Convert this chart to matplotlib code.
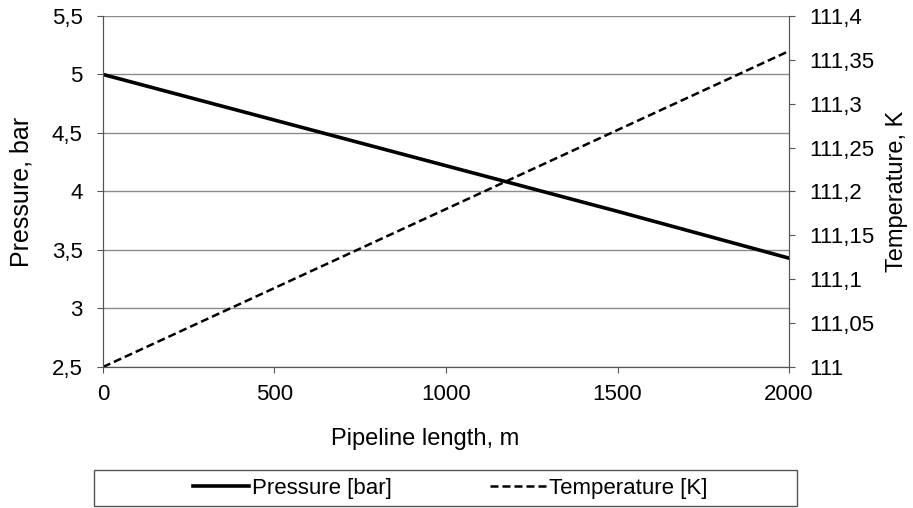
import matplotlib.pyplot as plt
from matplotlib.ticker import FuncFormatter, MultipleLocator
from matplotlib.patches import Rectangle

# дані з графіка
length_m = [0, 500, 1000, 1500, 2000]
pressure_bar = [5.0, 4.61, 4.22, 3.83, 3.43]
temperature_k = [111.0, 111.09, 111.18, 111.27, 111.36]

plt.rcParams['font.family'] = ['Liberation Sans', 'DejaVu Sans']
plt.rcParams['font.size'] = 12

comma = FuncFormatter(lambda v, p: ('%g' % round(v, 4)).replace('.', ','))

fig = plt.figure(figsize=(9.13, 5.08), dpi=100)
ax = fig.add_axes([0.1128, 0.2776, 0.7514, 0.691])
ax2 = ax.twinx()

l1, = ax.plot(length_m, pressure_bar, color='black', lw=2.6, label='Pressure [bar]')
l2, = ax2.plot(length_m, temperature_k, color='black', lw=1.8, ls=(0, (3.2, 1.6)), label='Temperature [K]')

ax.set_xlim(0, 2000)
ax.set_ylim(2.5, 5.5)
ax2.set_ylim(111, 111.4)
ax.xaxis.set_major_locator(MultipleLocator(500))
ax.yaxis.set_major_locator(MultipleLocator(0.5))
ax2.yaxis.set_major_locator(MultipleLocator(0.05))
ax.yaxis.set_major_formatter(comma)
ax2.yaxis.set_major_formatter(comma)

ax.grid(axis='y', color='#8c8c8c', lw=1)
ax.set_axisbelow(True)
for a in (ax, ax2):
    a.spines['top'].set_visible(False)
    for s in ('left', 'right', 'bottom'):
        a.spines[s].set_color('#555555')
    a.tick_params(length=4.5, color='#555555', labelsize=16)
ax.tick_params(axis='y', pad=10)
ax.tick_params(axis='x', pad=8)
ax2.tick_params(axis='y', pad=10)

ax.set_xlabel('Pipeline length, m', fontsize=17)
ax.xaxis.set_label_coords(0.469, -0.175)
ax.set_ylabel('Pressure, bar', fontsize=18, labelpad=13)
ax2.set_ylabel('Temperature, K', fontsize=17, labelpad=8)

# рамка легенди
fig.patches.append(Rectangle((0.103, 0.003), 0.770, 0.072, transform=fig.transFigure,
                             fill=False, edgecolor='#555555', lw=1))
fig.legend(handles=[l1, l2], loc='center', bbox_to_anchor=(0.493, 0.039), ncol=2,
           frameon=False, handlelength=2.55, handletextpad=0.12, columnspacing=4.4, fontsize=16)

fig.savefig('out.png', dpi=100)
